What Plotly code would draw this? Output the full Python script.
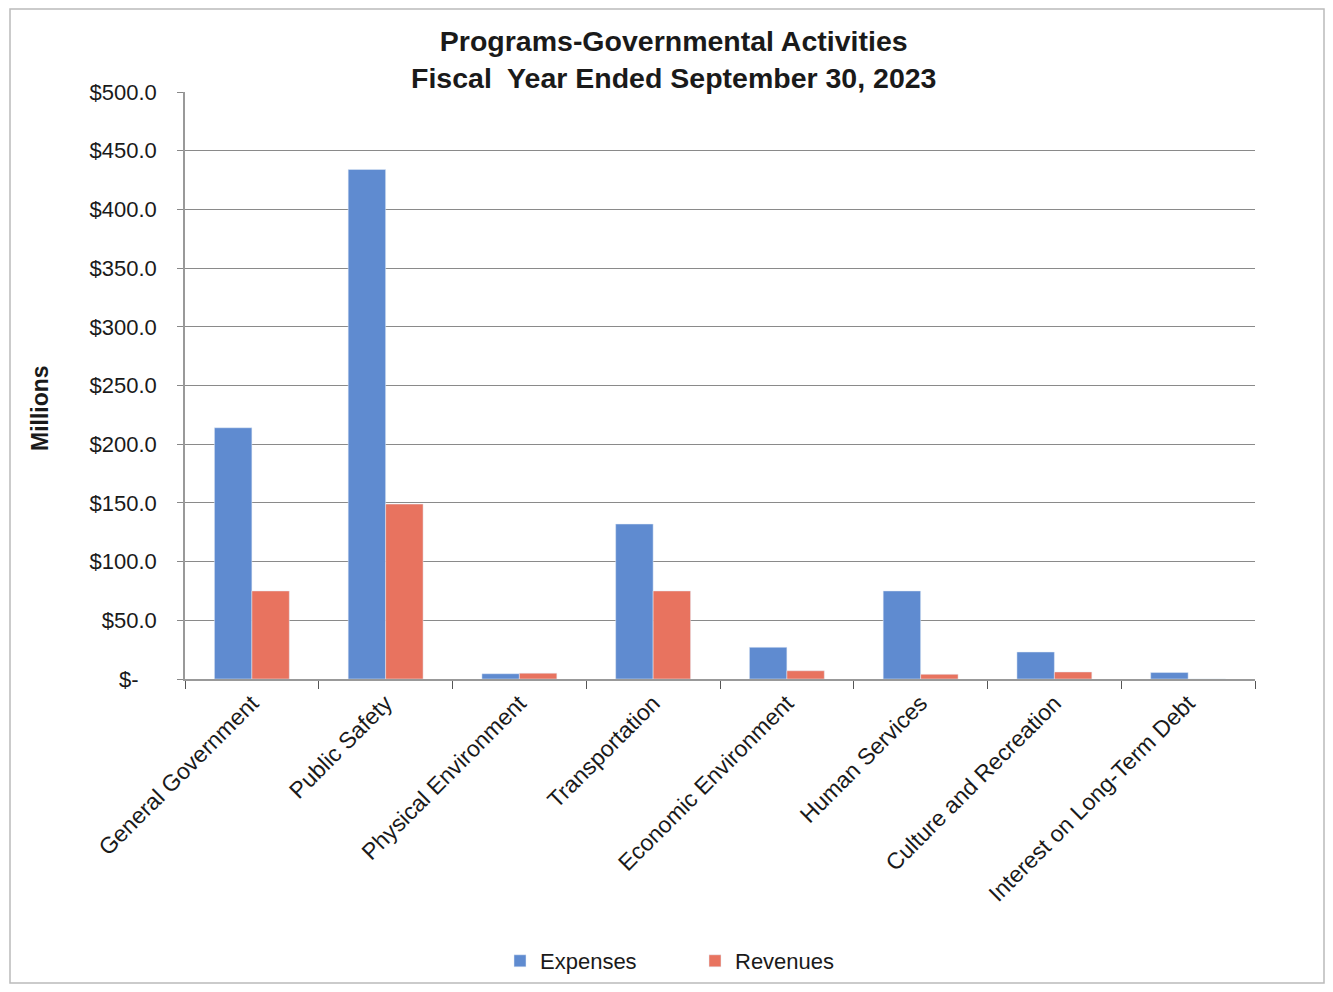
import plotly.graph_objects as go

categories = ["General Government", "Public Safety", "Physical Environment", "Transportation",
              "Economic Environment", "Human Services", "Culture and Recreation",
              "Interest on Long-Term Debt"]
expenses = [214.0, 434.0, 4.5, 132.0, 27.0, 75.0, 23.0, 5.5]
revenues = [75.0, 149.0, 5.0, 75.0, 7.0, 4.0, 6.0, 0.0]
tick_vals = [0, 50, 100, 150, 200, 250, 300, 350, 400, 450, 500]
tick_text = ["$-\u00a0\u00a0\u00a0", "$50.0", "$100.0", "$150.0", "$200.0", "$250.0", "$300.0",
             "$350.0", "$400.0", "$450.0", "$500.0"]

OFF = 8  # page body margin
W, H = 1333 - 2 * OFF, 992 - 2 * OFF
L, T = 185 - OFF, 92 - OFF
R = W - (1255 - OFF)
B = H - (679 - OFF)
pw, ph = W - L - R, H - T - B

def px(x):  # page pixel -> paper x
    return (x - OFF - L) / pw

def py(y):  # page pixel -> paper y
    return (H - B - (y - OFF)) / ph

FONT = "Liberation Sans, Arial, sans-serif"

fig = go.Figure()
fig.add_trace(go.Bar(name="Expenses", x=categories, y=expenses, marker_color="#5f8bd0"))
fig.add_trace(go.Bar(name="Revenues", x=categories, y=revenues, marker_color="#e8735f"))

fig.update_layout(
    width=W, height=H,
    margin=dict(l=L, r=R, t=T, b=B, autoexpand=False),
    paper_bgcolor="white", plot_bgcolor="white",
    font=dict(family=FONT, color="#1a1a1a", size=22),
    barmode="group", bargap=0.44, bargroupgap=0.0,
    showlegend=True,
    legend=dict(orientation="h", x=px(500), xanchor="left", y=py(961), yanchor="middle",
                font=dict(size=22), entrywidth=150, entrywidthmode="pixels",
                itemwidth=30, traceorder="normal"),
    xaxis=dict(showline=True, linecolor="#999999", linewidth=1.5,
               ticks="outside", tickson="boundaries", ticklen=8, tickcolor="#555555",
               tickangle=-45, tickfont=dict(size=23), showgrid=False, automargin=False),
    yaxis=dict(range=[0, 500], tickvals=tick_vals, ticktext=tick_text,
               showline=True, linecolor="#999999", linewidth=1.5,
               ticks="outside", ticklen=6, tickcolor="#888888",
               showgrid=True, gridcolor="#8a8a8a", gridwidth=1.2,
               tickfont=dict(size=22), zeroline=False, ticklabelstandoff=16,
               automargin=False),
    annotations=[
        dict(text="<b>Programs-Governmental Activities<br>Fiscal  Year Ended September 30, 2023</b>",
             xref="paper", yref="paper", x=px(673), y=py(60), xanchor="center", yanchor="middle",
             showarrow=False, font=dict(size=28.5, color="#1a1a1a")),
        dict(text="<b>Millions</b>", xref="paper", yref="paper", x=px(40), y=py(408),
             xanchor="center", yanchor="middle", textangle=-90, showarrow=False,
             font=dict(size=23, color="#1a1a1a")),
    ],
    shapes=[dict(type="rect", xref="paper", yref="paper",
                 x0=px(10), x1=px(1324), y0=py(983), y1=py(9),
                 line=dict(color="#bbbbbb", width=1.5))],
)

fig.write_html("out.html")
